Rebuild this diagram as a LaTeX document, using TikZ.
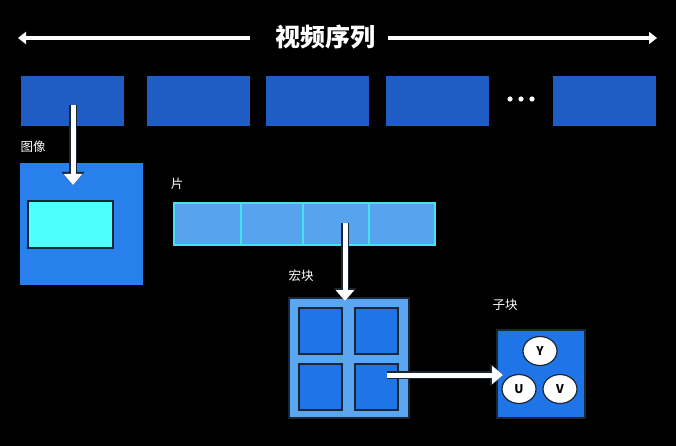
\documentclass[tikz,border=0pt]{standalone}
\usepackage{fontspec}
\setmainfont{Noto Sans CJK SC}
\usetikzlibrary{arrows.meta}

\definecolor{framecol}{HTML}{1F5CC4}
\definecolor{imgcol}{HTML}{2780EC}
\definecolor{cyancol}{HTML}{4DFFFF}
\definecolor{slicecol}{HTML}{58A3EE}
\definecolor{sliceedge}{HTML}{45E3F2}
\definecolor{mbcol}{HTML}{5AA6F0}
\definecolor{subcol}{HTML}{1F75E8}
\definecolor{edgecol}{HTML}{1A2633}

\tikzset{
	box/.style={anchor=north west, inner sep=0pt, outer sep=0pt},
	lbl/.style={white, font=\fontsize{12.5}{13}\selectfont, inner sep=0pt},
	toparrow/.style={white, line width=3.5pt, -{Triangle[width=12pt,length=8pt]}},
	bigarrow/.style={white, line width=5pt, -{Triangle[width=18pt,length=11pt]},
		preaction={draw=edgecol, line width=7.5pt, -{Triangle[width=22pt,length=13pt]}}},
	yuv/.style={ellipse, draw=edgecol, line width=1.2pt, fill=white, minimum width=34pt,
		minimum height=29pt, inner sep=0pt, font=\fontsize{12}{12}\selectfont\bfseries},
}
\usetikzlibrary{shapes.geometric}

\begin{document}
\begin{tikzpicture}[x=1pt, y=-1pt]
	\useasboundingbox[fill=black] (0,0) rectangle (676,446);

	% Titel mit Pfeilen
	\node[white, font=\fontsize{25}{25}\selectfont\bfseries, inner sep=0pt] (title) at (325,37) {视频序列};
	\coordinate (lend) at (18,38);
	\coordinate (rend) at (657,38);
	\draw[toparrow] ([xshift=-25pt,yshift=-1pt]title.west) -- (lend);
	\draw[toparrow] ([xshift=13pt,yshift=-1pt]title.east) -- (rend);

	% Bildfolge
	\foreach \x/\n in {21/f1,147/f2,266/f3,386/f4,553/f5} {
		\node[box, fill=framecol, minimum width=103pt, minimum height=50pt] (\n) at (\x,76) {};
	}
	\foreach \x in {510,521,532} {
		\fill[white] (\x,99) circle (2.6pt);
	}

	% Bild
	\node[lbl] (limg) at (33,147) {图像};
	\node[box, fill=imgcol, minimum width=123pt, minimum height=122pt] (img) at (20,163) {};
	\node[box, fill=cyancol, draw=edgecol, line width=1.5pt, minimum width=85pt, minimum height=47pt] (region) at (28,201) {};
	\coordinate (imgin) at (73,185);
	\draw[bigarrow] (f1.center) ++(0.5,4) -- (imgin);

	% Slice
	\node[lbl] (lslice) at (177,184) {片};
	\node[box, fill=slicecol, draw=sliceedge, line width=1.5pt, minimum width=261pt, minimum height=42pt] (slice) at (174,203) {};
	\foreach \x in {241,303,369} {
		\draw[sliceedge, line width=1.5pt] (\x,203) -- (\x,245);
	}

	% Makroblock
	\node[lbl] (lmb) at (301,276) {宏块};
	\node[box, fill=mbcol, draw=edgecol, line width=1.5pt, minimum width=120pt, minimum height=120pt] (mb) at (289,298) {};
	\foreach \x/\y/\n in {299/308/mba,355/308/mbb,299/364/mbc,355/364/mbd} {
		\node[box, fill=subcol, draw=edgecol, line width=1.5pt, minimum width=43pt, minimum height=46pt] (\n) at (\x,\y) {};
	}
	\coordinate (slicesrc) at (345,223);
	\coordinate (mbin) at (345,301);
	\draw[bigarrow] (slicesrc) -- (mbin);

	% Subblock
	\node[lbl] (lsub) at (505,305) {子块};
	\node[box, fill=subcol, draw=edgecol, line width=1.5pt, minimum width=88pt, minimum height=88pt] (sub) at (497,330) {};
	\node[yuv] (y) at (540,351) {Y};
	\node[yuv] (u) at (519,389) {U};
	\node[yuv] (v) at (560,389) {V};
	\coordinate (mbsrc) at (387,375);
	\coordinate (subin) at (503,375);
	\draw[bigarrow] (mbsrc) -- (subin);
\end{tikzpicture}
\end{document}
